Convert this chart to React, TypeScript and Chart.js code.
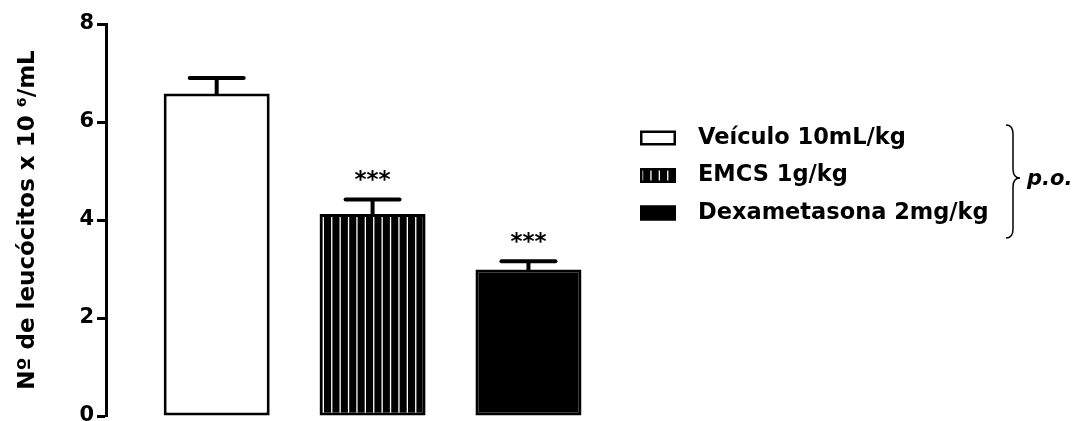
import React, { useEffect, useRef } from "react";
import { Chart, registerables } from "chart.js";

Chart.register(...registerables);

// ---- data ----
const categories = ["Veículo 10mL/kg", "EMCS 1g/kg", "Dexametasona 2mg/kg"];
const means = [6.58, 4.12, 2.99];
const sems = [0.32, 0.3, 0.17];
const significance = ["", "***", "***"];
const yTickValues = [0, 2, 4, 6, 8];
const yTitle = "Nº de leucócitos x 10 ⁶/mL";
const routeLabel = "p.o.";

const FONT = "DejaVu Sans";

function makeStripePattern(): CanvasPattern | string {
  const c = document.createElement("canvas");
  c.width = 42;
  c.height = 4;
  const g = c.getContext("2d");
  if (!g) return "#000";
  g.fillStyle = "#000";
  g.fillRect(0, 0, 42, 4);
  g.fillStyle = "#fff";
  const phase = 4.1;
  for (let k = 0; k < 5; k++) {
    g.fillRect(phase + k * 8.4 - 0.6, 0, 1.3, 4);
  }
  const ctx = document.createElement("canvas").getContext("2d");
  const p = ctx ? ctx.createPattern(c, "repeat") : null;
  return p || "#000";
}

const errorBarPlugin = {
  id: "errorBars",
  afterDatasetsDraw(chart: any) {
    const { ctx } = chart;
    const yScale = chart.scales.y;
    ctx.save();
    chart.data.datasets.forEach((ds: any, i: number) => {
      const meta = chart.getDatasetMeta(i);
      const bar = meta.data[0];
      if (!bar) return;
      const x = bar.x;
      const yTop = yScale.getPixelForValue(means[i] + sems[i]);
      ctx.strokeStyle = "#000";
      ctx.lineWidth = 4;
      ctx.lineCap = "butt";
      ctx.beginPath();
      ctx.moveTo(x, bar.y + 1);
      ctx.lineTo(x, yTop);
      ctx.stroke();
      ctx.lineCap = "round";
      ctx.beginPath();
      ctx.moveTo(x - 27, yTop);
      ctx.lineTo(x + 27, yTop);
      ctx.stroke();
      if (significance[i]) {
        ctx.fillStyle = "#000";
        ctx.font = `bold 23px ${FONT}`;
        ctx.textAlign = "center";
        ctx.textBaseline = "alphabetic";
        ctx.fillText(significance[i], x, yTop - 12);
      }
    });
    ctx.restore();
  },
};

const legendPlugin = {
  id: "customLegend",
  afterDraw(chart: any) {
    const { ctx } = chart;
    ctx.save();
    const boxX = 640;
    const boxW = 36;
    const boxH = 15;
    const textX = 698;
    const firstY = 138;
    const pitch = 37.5;
    chart.data.datasets.forEach((ds: any, i: number) => {
      const cy = firstY + i * pitch;
      ctx.fillStyle = ds.backgroundColor;
      ctx.fillRect(boxX, cy - boxH / 2, boxW, boxH);
      ctx.strokeStyle = "#000";
      ctx.lineWidth = 2.5;
      ctx.strokeRect(boxX + 1.25, cy - boxH / 2 + 1.25, boxW - 2.5, boxH - 2.5);
      ctx.fillStyle = "#000";
      ctx.font = `bold 22.5px ${FONT}`;
      ctx.textAlign = "left";
      ctx.textBaseline = "middle";
      ctx.fillText(ds.label, textX, cy);
    });
    // brace
    ctx.strokeStyle = "#000";
    ctx.lineWidth = 1.5;
    ctx.beginPath();
    ctx.moveTo(1006, 125);
    ctx.quadraticCurveTo(1013, 125, 1013, 134);
    ctx.lineTo(1013, 169);
    ctx.quadraticCurveTo(1013, 178, 1020, 178);
    ctx.quadraticCurveTo(1013, 178, 1013, 187);
    ctx.lineTo(1013, 229);
    ctx.quadraticCurveTo(1013, 238, 1006, 238);
    ctx.stroke();
    ctx.font = `italic bold 21px ${FONT}`;
    ctx.textAlign = "left";
    ctx.textBaseline = "middle";
    ctx.fillText(routeLabel, 1027, 180);
    ctx.restore();
  },
};

export default function App() {
  const ref = useRef<HTMLCanvasElement | null>(null);

  useEffect(() => {
    if (!ref.current) return;
    const stripes = makeStripePattern();
    const fills: any[] = ["#ffffff", stripes, "#000000"];
    const chart = new Chart(ref.current, {
      type: "bar",
      data: {
        datasets: categories.map((label, i) => ({
          label,
          data: [{ x: i + 1, y: means[i] }],
          backgroundColor: fills[i],
          borderColor: "#000",
          borderWidth: 3,
          borderSkipped: false,
          grouped: false,
          barPercentage: 0.68,
          categoryPercentage: 1,
        })),
      },
      options: {
        responsive: false,
        animation: false,
        layout: { padding: { top: 24, bottom: 24, left: 0, right: 453 } },
        plugins: {
          legend: { display: false },
          tooltip: { enabled: false },
        },
        scales: {
          x: {
            type: "linear",
            display: false,
            offset: false,
            min: 0.29,
            max: 3.6,
            afterBuildTicks: (scale: any) => {
              scale.ticks = categories.map((_, i) => ({ value: i + 1 }));
            },
          },
          y: {
            min: 0,
            max: 8,
            afterBuildTicks: (scale: any) => {
              scale.ticks = yTickValues.map((v) => ({ value: v }));
            },
            afterFit: (scale: any) => {
              scale.width = 106;
            },
            border: { display: true, color: "#000", width: 3 },
            grid: {
              drawOnChartArea: false,
              drawTicks: true,
              tickLength: 9,
              tickWidth: 3,
              tickColor: "#000",
              color: "#000",
            },
            ticks: {
              color: "#000",
              padding: 3,
              font: { family: FONT, weight: "bold", size: 21 },
            },
            title: {
              display: true,
              text: yTitle,
              color: "#000",
              font: { family: FONT, weight: "bold", size: 23 },
              padding: { top: 14, bottom: 0 },
            },
          },
        },
      },
      plugins: [errorBarPlugin, legendPlugin],
    } as any);
    return () => chart.destroy();
  }, []);

  return (
    <div
      style={{
        position: "fixed",
        top: 0,
        left: 0,
        width: 1075,
        height: 421,
        overflow: "hidden",
        background: "#fff",
      }}
    >
      <canvas ref={ref} width={1075} height={440} style={{ display: "block" }} />
    </div>
  );
}
